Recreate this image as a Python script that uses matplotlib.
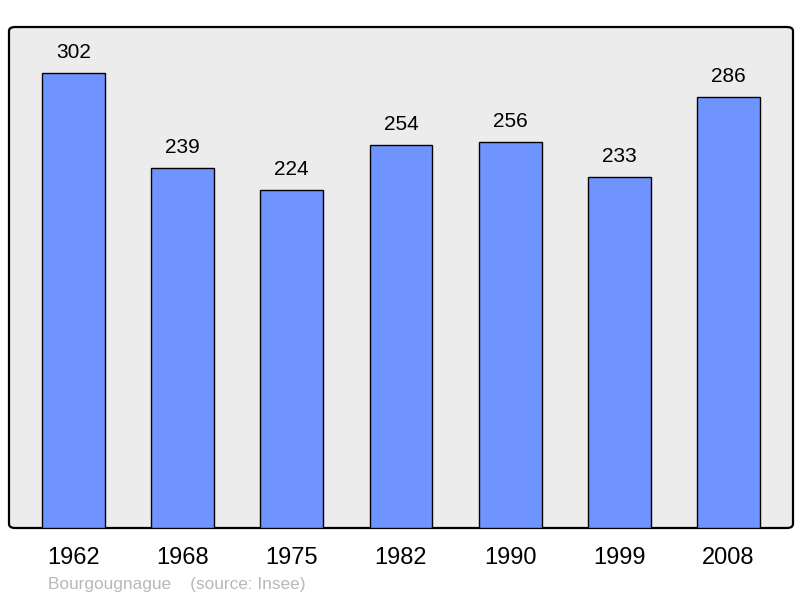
import matplotlib.pyplot as plt
from matplotlib.patches import FancyBboxPatch

plt.rcParams['font.family'] = ['Liberation Sans', 'DejaVu Sans']

years = ['1962', '1968', '1975', '1982', '1990', '1999', '2008']
population = [302, 239, 224, 254, 256, 233, 286]

fig = plt.figure(figsize=(8, 5.98), dpi=100)
ax = fig.add_axes([9 / 800, 70 / 598, 784 / 800, 501 / 598])

ax.patch.set_visible(False)
for s in ax.spines.values():
    s.set_visible(False)

frame = FancyBboxPatch((0, 0), 1, 1, boxstyle='round,pad=0,rounding_size=0.008',
                       transform=ax.transAxes, facecolor='#ececec', edgecolor='black',
                       linewidth=1.6, clip_on=False, zorder=0)
ax.add_patch(frame)

x = range(len(years))
ax.bar(x, population, width=0.576, color='#7094ff', edgecolor='black', linewidth=1.0, zorder=2)
for i, v in zip(x, population):
    ax.annotate(str(v), (i, v), xytext=(0, 15), textcoords='offset points',
                ha='center', va='center', fontsize=15)

ax.set_xlim(-0.59, 6.59)
ax.set_ylim(0, 332.5)
ax.set_yticks([])
ax.set_xticks(list(x))
ax.set_xticklabels(years, fontsize=17)
ax.tick_params(axis='x', length=0, pad=13.5)

fig.text(48 / 800, 1 - 584 / 598, 'Bourgougnague    (source: Insee)', color='#b8b8b8',
         fontsize=12.4, ha='left', va='center')

fig.savefig('out.png', dpi=100)
